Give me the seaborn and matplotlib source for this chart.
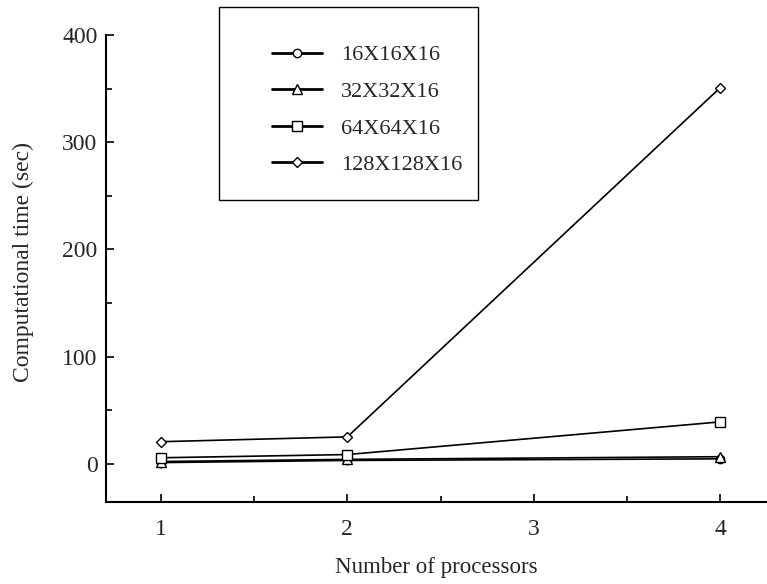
import matplotlib
matplotlib.use("Agg")
import matplotlib.pyplot as plt
import seaborn as sns
from matplotlib.patches import Rectangle
from matplotlib.ticker import MultipleLocator

processors = [1, 2, 4]
labels = ["16X16X16", "32X32X16", "64X64X16", "128X128X16"]
t_16 = [1.0, 3.0, 4.5]
t_32 = [2.0, 4.0, 6.5]
t_64 = [5.5, 8.5, 39.0]
t_128 = [20.5, 25.0, 351.0]
series = [t_16, t_32, t_64, t_128]
markers = ["o", "^", "s", "D"]
msizes = [6, 6.5, 7, 5.5]

sns.set_style("ticks")
plt.rcParams["font.family"] = ["Liberation Serif", "DejaVu Serif"]

fig = plt.figure(figsize=(7.67, 5.84), dpi=100)
ax = fig.add_axes([0.138, 0.140, 0.862, 0.800])

for lab, vals, mk, ms in zip(labels, series, markers, msizes):
    sns.lineplot(x=processors, y=vals, ax=ax, color="black", linewidth=1.2,
                 marker=mk, markersize=ms, markerfacecolor="white",
                 markeredgecolor="black", markeredgewidth=1.0, label=lab)

ax.set_xlim(0.705, 4.25)
ax.set_ylim(-36, 400)
ax.xaxis.set_major_locator(MultipleLocator(1))
ax.xaxis.set_minor_locator(MultipleLocator(0.5))
ax.yaxis.set_major_locator(MultipleLocator(100))
ax.yaxis.set_minor_locator(MultipleLocator(50))
ax.tick_params(which="both", direction="in", color="black", labelsize=17, width=1.2)
ax.tick_params(which="major", length=6)
ax.tick_params(which="minor", length=4)
ax.tick_params(axis="x", which="major", pad=12)
ax.tick_params(axis="y", which="major", pad=6)
sns.despine(ax=ax)
ax.spines["left"].set_linewidth(1.5)
ax.spines["bottom"].set_linewidth(1.5)
ax.spines["left"].set_color("black")
ax.spines["bottom"].set_color("black")

ax.set_xlabel("Number of processors", fontsize=16.5, labelpad=12)
ax.set_ylabel("Computational time (sec)", fontsize=17)
ax.yaxis.set_label_coords(-0.108, 0.515)

# legend box drawn separately so the padding matches the original
ax.add_patch(Rectangle((0.171, 0.647), 0.392, 0.413, transform=ax.transAxes,
                       fill=True, facecolor="white", edgecolor="black",
                       linewidth=1.0, clip_on=False, zorder=4))
leg = ax.legend(loc="upper left", bbox_to_anchor=(0.251, 0.979), fontsize=16,
                frameon=False, handlelength=2.25, handletextpad=0.87,
                labelspacing=0.72, borderpad=0, borderaxespad=0)
leg.set_zorder(5)
for h in leg.get_lines():
    h.set_linewidth(2.0)

fig.savefig("out.png", dpi=100)
